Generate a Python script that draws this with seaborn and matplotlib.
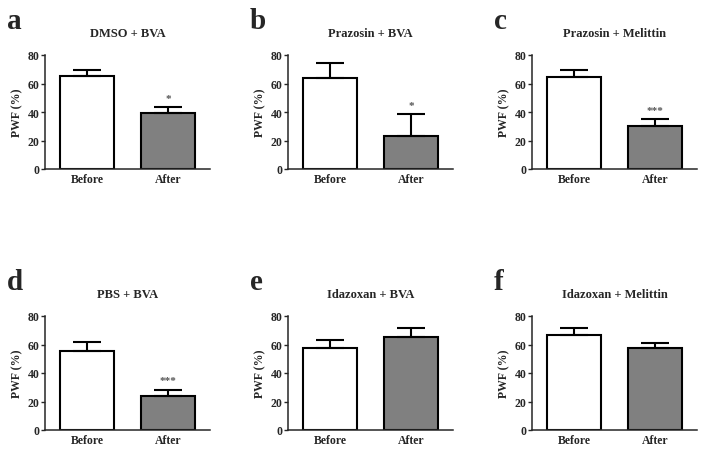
import pandas as pd
import numpy as np
import matplotlib.pyplot as plt
import seaborn as sns

# panel data (mean and upper error, % PWF)
panels = ['a', 'b', 'c', 'd', 'e', 'f']
titles = ['DMSO + BVA', 'Prazosin + BVA', 'Prazosin + Melittin',
          'PBS + BVA', 'Idazoxan + BVA', 'Idazoxan + Melittin']
groups = ['Before', 'After']
before_mean = [65.2, 63.8, 64.7, 55.4, 57.4, 66.9]
before_err = [4.5, 10.9, 4.7, 6.4, 6.1, 4.9]
after_mean = [39.2, 23.2, 30.4, 23.9, 65.1, 57.5]
after_err = [4.2, 15.5, 4.4, 4.4, 6.3, 3.3]
stars = ['*', '*', '***', '***', '', '']
yticks = [0, 20, 40, 60, 80]

sns.set_theme(style='ticks')
plt.rcParams['font.family'] = ['Liberation Serif', 'DejaVu Serif']
plt.rcParams['font.weight'] = 'bold'

fig = plt.figure(figsize=(7.02, 4.52), dpi=100)
W, H = 702, 452
lefts = [45, 288, 532]
tops = [56, 317]
ax_w, ax_h = 165, 114

for i, p in enumerate(panels):
    row, col = divmod(i, 3)
    x0, y0 = lefts[col], tops[row]
    ax = fig.add_axes([x0 / W, 1 - (y0 + ax_h) / H, ax_w / W, ax_h / H])
    df = pd.DataFrame({'group': groups,
                       'pwf': [before_mean[i], after_mean[i]],
                       'err': [before_err[i], after_err[i]]})
    sns.barplot(data=df, x='group', y='pwf', hue='group',
                palette=['white', '#808080'], edgecolor='black',
                linewidth=1.5, width=0.67, errorbar=None, legend=False, ax=ax)
    # one-sided (upper) error bars
    ax.errorbar(np.arange(2), df['pwf'], yerr=[np.zeros(2), df['err']],
                fmt='none', ecolor='black', elinewidth=1.5, capsize=10,
                capthick=1.5, zorder=1)
    if stars[i]:
        ax.text(1, df['pwf'][1] + df['err'][1] + 3, stars[i], ha='center',
                va='bottom', fontsize=8, color='#555555')
    ax.set_xlim(-0.52, 1.52)
    ax.set_ylim(0, 80)
    ax.set_yticks(yticks)
    ax.set_xlabel('')
    ax.set_ylabel('PWF (%)', fontsize=8.5, fontweight='bold', labelpad=3)
    ax.set_title(titles[i], fontsize=9, fontweight='bold', pad=14)
    ax.tick_params(axis='y', length=3, width=1, pad=1, labelsize=8.5)
    ax.tick_params(axis='x', length=0, pad=3, labelsize=8.5)
    for lab in ax.get_xticklabels() + ax.get_yticklabels():
        lab.set_fontweight('bold')
    sns.despine(ax=ax)
    ax.spines['left'].set_linewidth(1.1)
    ax.spines['bottom'].set_linewidth(1.1)
    fig.text((x0 - 38) / W, 1 - (y0 - 27) / H, p, fontsize=21,
             fontweight='bold', ha='left', va='baseline')

fig.savefig('out.png', dpi=100)
